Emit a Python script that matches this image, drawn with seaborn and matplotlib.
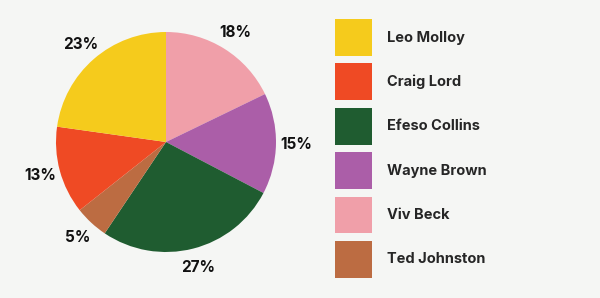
import matplotlib
matplotlib.use("Agg")
import matplotlib.pyplot as plt
from matplotlib.patches import Patch
import seaborn as sns

# Data (pie order, clockwise from top)
pie_names = ["Viv Beck", "Wayne Brown", "Efeso Collins", "Ted Johnston", "Craig Lord", "Leo Molloy"]
pie_values = [18, 15, 27, 5, 13, 23]
pie_labels = ["18%", "15%", "27%", "5%", "13%", "23%"]

legend_order = ["Leo Molloy", "Craig Lord", "Efeso Collins", "Wayne Brown", "Viv Beck", "Ted Johnston"]

colors = {
    "Leo Molloy": "#F5CB1C",
    "Craig Lord": "#EF4A24",
    "Efeso Collins": "#1F5C30",
    "Wayne Brown": "#AB5EA8",
    "Viv Beck": "#F09FA9",
    "Ted Johnston": "#BC6C42",
}

bg = "#F5F6F4"
sns.set_theme(style="white")
plt.rcParams["font.family"] = ["Inter", "DejaVu Sans"]

fig = plt.figure(figsize=(6.0, 2.98), dpi=100, facecolor=bg)
W, H = 600, 298
cx, cy, r = 166, 142, 110
half = r * 1.25
ax = fig.add_axes([(cx - half) / W, (H - cy - half) / H, 2 * half / W, 2 * half / H])
ax.set_facecolor(bg)

pal = [colors[n] for n in pie_names]
wedges, texts = ax.pie(pie_values, labels=pie_labels, colors=pal, startangle=90,
                       counterclock=False, labeldistance=1.18,
                       wedgeprops=dict(linewidth=0, edgecolor="none"),
                       textprops=dict(fontsize=11, fontweight="bold", color="#111111"))
for t in texts:
    t.set_horizontalalignment("center")
    t.set_verticalalignment("center")
ax.set_aspect("equal")

handles = [Patch(facecolor=colors[n], edgecolor="none") for n in legend_order]
fig.legend(handles, legend_order, loc="upper left", bbox_to_anchor=(335 / W, 1 - 19 / H),
           frameon=False, borderpad=0, borderaxespad=0, handlelength=2.55, handleheight=3.52,
           labelspacing=0.51, handletextpad=1.0,
           prop=dict(family=["Inter", "DejaVu Sans"], weight="bold", size=10.5))

fig.savefig("out.png", dpi=100, facecolor=bg)
